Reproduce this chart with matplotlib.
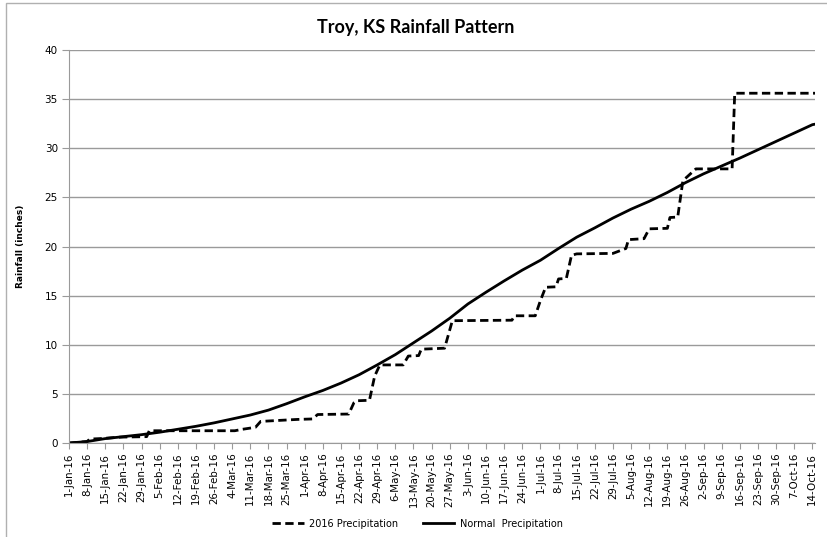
import matplotlib
matplotlib.use("Agg")
import matplotlib.pyplot as plt
import pandas as pd
from matplotlib.patches import Rectangle

# normal precipitation, read weekly (every 7 days from 1-Jan) plus end point
normal_dates = pd.date_range("2016-01-01", "2016-10-14", freq="7D").append(pd.DatetimeIndex(["2016-10-15"]))
normal_vals = [0.0, 0.15, 0.45, 0.65, 0.85, 1.1, 1.4, 1.7, 2.05, 2.45,
               2.85, 3.35, 4.0, 4.7, 5.35, 6.1, 6.95, 7.95, 9.0, 10.2,
               11.4, 12.7, 14.15, 15.35, 16.5, 17.6, 18.6, 19.8, 20.95, 21.9,
               22.9, 23.8, 24.6, 25.5, 26.5, 27.4, 28.2, 29.0, 29.85, 30.7,
               31.55, 32.4, 32.45]

# 2016 cumulative precipitation, breakpoints of the step curve
prec_dates = pd.to_datetime([
    "2016-01-01", "2016-01-08", "2016-01-09", "2016-01-13", "2016-01-21", "2016-01-31",
    "2016-02-01", "2016-03-05", "2016-03-08", "2016-03-13", "2016-03-15", "2016-03-29",
    "2016-04-04", "2016-04-06", "2016-04-18", "2016-04-20", "2016-04-21", "2016-04-26",
    "2016-04-28", "2016-04-30", "2016-05-09", "2016-05-11", "2016-05-15", "2016-05-16",
    "2016-05-25", "2016-05-28", "2016-06-20", "2016-06-21", "2016-06-29", "2016-07-01",
    "2016-07-03", "2016-07-07", "2016-07-08", "2016-07-11", "2016-07-13", "2016-07-15",
    "2016-07-29", "2016-08-03", "2016-08-04", "2016-08-10", "2016-08-12", "2016-08-19",
    "2016-08-20", "2016-08-23", "2016-08-25", "2016-08-30", "2016-09-13", "2016-09-14",
    "2016-10-15"])
prec_vals = [0.0, 0.15, 0.4, 0.45, 0.6, 0.65,
             1.25, 1.25, 1.4, 1.6, 2.2, 2.4,
             2.45, 2.9, 2.95, 4.1, 4.3, 4.35,
             6.8, 7.95, 7.95, 8.85, 8.9, 9.55,
             9.65, 12.45, 12.5, 12.95, 12.95, 14.5,
             15.85, 15.9, 16.7, 16.75, 19.1, 19.25,
             19.3, 19.8, 20.7, 20.8, 21.8, 21.85,
             22.95, 23.0, 26.7, 27.9, 27.9, 35.6,
             35.6]

tick_dates = pd.date_range("2016-01-01", "2016-10-14", freq="7D")
tick_labels = [f"{d.day}-{d.strftime('%b-%y')}" for d in tick_dates]

fig = plt.figure(figsize=(8.27, 5.37), dpi=100)
ax = fig.add_axes([0.0834, 0.175, 0.9021, 0.7319])

grey = "#9a9a9a"
ax.plot(prec_dates, prec_vals, color="black", lw=2.0, dashes=(3, 1.6), label="2016 Precipitation")
ax.plot(normal_dates, normal_vals, color="black", lw=2.0, label="Normal  Precipitation")

ax.set_xlim(pd.Timestamp("2016-01-01"), pd.Timestamp("2016-10-15"))
ax.set_ylim(0, 40)
ax.set_yticks(range(0, 41, 5))
ax.set_xticks(tick_dates)
ax.set_xticklabels(tick_labels, rotation=90, fontsize=7.4)
ax.tick_params(axis="y", labelsize=7.5, length=5, color=grey, pad=3)
ax.tick_params(axis="x", length=4, color=grey, pad=3)
ax.grid(axis="y", color=grey, lw=1)
ax.set_axisbelow(True)
for s in ["top", "right"]:
    ax.spines[s].set_visible(False)
for s in ["left", "bottom"]:
    ax.spines[s].set_color(grey)

ax.set_ylabel("Rainfall (inches)", fontsize=6.5, fontweight="bold", family="Liberation Sans Narrow", labelpad=14)
fig.text(0.503, 0.948, "Troy, KS Rainfall Pattern", ha="center", va="center",
         fontsize=13, fontweight="bold", family="Lato")

fig.legend(loc="center", bbox_to_anchor=(0.505, 0.025), ncol=2, frameon=False,
           fontsize=7, handlelength=3.2, columnspacing=2.5, handletextpad=0.6)

fig.patches.append(Rectangle((6 / 827, -0.02), 1.1, 1 - 3 / 537 + 0.02, transform=fig.transFigure,
                             fill=False, edgecolor="#b0b0b0", lw=1))

fig.savefig("out.png", dpi=100)
